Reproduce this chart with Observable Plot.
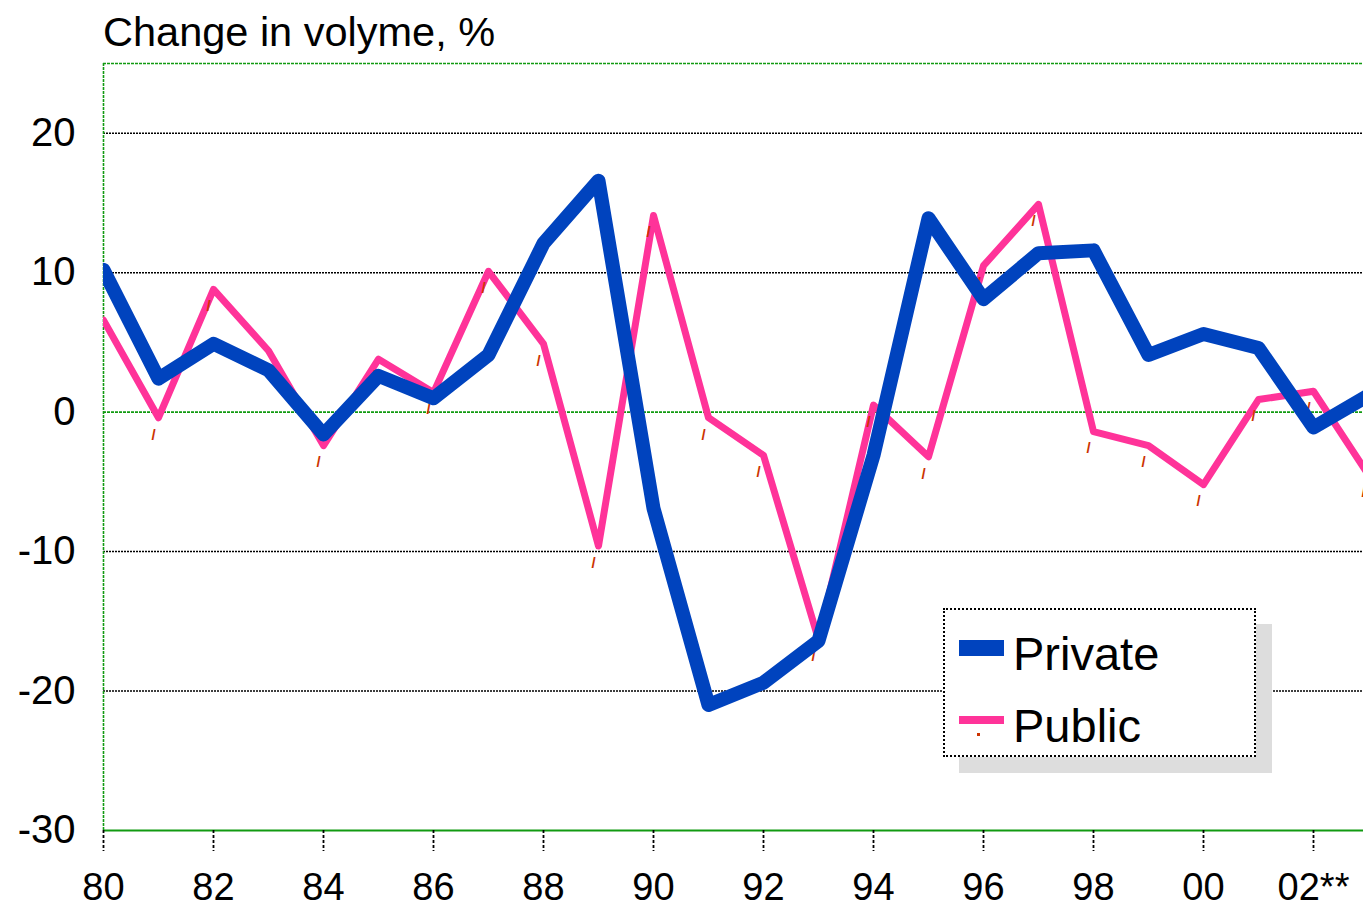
<!DOCTYPE html>
<html>
<head>
<meta charset="utf-8">
<script src="https://cdn.jsdelivr.net/npm/d3@7"></script>
<script src="https://cdn.jsdelivr.net/npm/@observablehq/plot@0.6"></script>
<style>
  html, body { margin: 0; padding: 0; background: #fff; }
  #wrap { position: relative; width: 1363px; height: 910px; overflow: hidden; font-family: "Liberation Sans", Arial, sans-serif; }
  #title { position: absolute; left: 103px; top: 8px; font-size: 41.5px; color: #000; white-space: nowrap; }
  #chart { position: absolute; left: 0; top: 0; }
  #legend { position: absolute; left: 943px; top: 608px; width: 309px; height: 145px; background: #fff;
            border: 2px dotted #000; box-shadow: 16px 16px 0 #dddddd; }
  .lg-row { position: absolute; left: 0; height: 60px; width: 100%; }
  .lg-swatch { position: absolute; left: 14px; width: 45px; }
  .lg-text { position: absolute; left: 68px; font-size: 47px; color: #000; line-height: 1; white-space: nowrap; }
  .lg-dot { position: absolute; left: 32px; width: 3px; height: 3px; background: #cc3300; }
</style>
</head>
<body>
<div id="wrap">
  <div id="chart"></div>
  <div id="title"></div>
  <div id="legend"></div>
</div>
<script>
// ---- data ----
const years = d3.range(1980, 2004);
const privateVals = [10.2, 2.4, 4.9, 3.0, -1.6, 2.6, 1.0, 4.1, 12.1, 16.6, -6.9, -21.0, -19.4, -16.4, -3.1, 13.9, 8.1, 11.4, 11.6, 4.1, 5.6, 4.6, -1.1, 1.2];
const publicVals  = [6.6, -0.4, 8.8, 4.4, -2.4, 3.8, 1.4, 10.1, 4.9, -9.6, 14.1, -0.4, -3.1, -16.3, 0.5, -3.2, 10.5, 14.9, -1.4, -2.4, -5.2, 0.9, 1.5, -4.5];
const seriesNames = ["Private", "Public"];
const seriesColors = ["#0043BE", "#FF3399"];
const xTickYears = d3.range(1980, 2003, 2);
const xTickLabels = ["80", "82", "84", "86", "88", "90", "92", "94", "96", "98", "00", "02**"];
const yTicks = [-30, -20, -10, 0, 10, 20];
const gridValues = [-20, -10, 10, 20];
const titleText = "Change in volyme, %";

// ---- build ----
const privateData = years.map((y, i) => ({year: y, value: privateVals[i]}));
const publicData = years.map((y, i) => ({year: y, value: publicVals[i]}));
const xLabelMap = new Map(xTickYears.map((y, i) => [y, xTickLabels[i]]));
const green = "#119a11";

const chart = Plot.plot({
  width: 1363,
  height: 910,
  marginLeft: 103,
  marginRight: 0,
  marginTop: 63,
  marginBottom: 80,
  style: {fontFamily: "'Liberation Sans', Arial, sans-serif", background: "transparent"},
  x: {domain: [1980, 2003], range: [103, 1368], label: null},
  y: {domain: [-30, 25], label: null},
  marks: [
    Plot.ruleY(gridValues, {stroke: "#000", strokeWidth: 1.5, strokeDasharray: "2,1"}),
    Plot.ruleY([0], {stroke: green, strokeWidth: 1.6, strokeDasharray: "3,1"}),
    Plot.ruleY([25], {stroke: green, strokeWidth: 1.6, strokeDasharray: "3,1"}),
    Plot.ruleY([-30], {stroke: green, strokeWidth: 2.2}),
    Plot.ruleX([1980], {stroke: green, strokeWidth: 1.6, strokeDasharray: "3,1"}),
    Plot.axisX({ticks: xTickYears, tickFormat: d => xLabelMap.get(d), tickSize: 21, tickPadding: 22,
                fontSize: 38, label: null, stroke: "#000", strokeWidth: 1.8, strokeDasharray: "3,2"}),
    Plot.axisY({ticks: yTicks, tickFormat: d => String(d), tickSize: 0, tickPadding: 28, fontSize: 40, label: null}),
    Plot.line(publicData, {x: "year", y: "value", stroke: seriesColors[1], strokeWidth: 7, clip: "frame"}),
    Plot.text(publicData, {x: "year", y: "value", text: () => "/", fill: "#cc3300", fontSize: 15, fontWeight: "bold", dx: -5, dy: 17, clip: "frame"}),
    Plot.line(privateData, {x: "year", y: "value", stroke: seriesColors[0], strokeWidth: 14, clip: "frame"})
  ]
});
document.getElementById("chart").appendChild(chart);
document.getElementById("title").textContent = titleText;

// legend
const legend = document.getElementById("legend");
const rows = [
  {name: seriesNames[0], color: seriesColors[0], thick: 16, top: 8, dot: false},
  {name: seriesNames[1], color: seriesColors[1], thick: 8, top: 80, dot: true}
];
rows.forEach(r => {
  const row = document.createElement("div");
  row.className = "lg-row";
  row.style.top = r.top + "px";
  const sw = document.createElement("div");
  sw.className = "lg-swatch";
  sw.style.background = r.color;
  sw.style.height = r.thick + "px";
  sw.style.top = (30 - r.thick / 2) + "px";
  row.appendChild(sw);
  if (r.dot) {
    const dot = document.createElement("div");
    dot.className = "lg-dot";
    dot.style.top = "43px";
    row.appendChild(dot);
  }
  const tx = document.createElement("div");
  tx.className = "lg-text";
  tx.style.top = "12px";
  tx.textContent = r.name;
  row.appendChild(tx);
  legend.appendChild(row);
});
</script>
</body>
</html>
